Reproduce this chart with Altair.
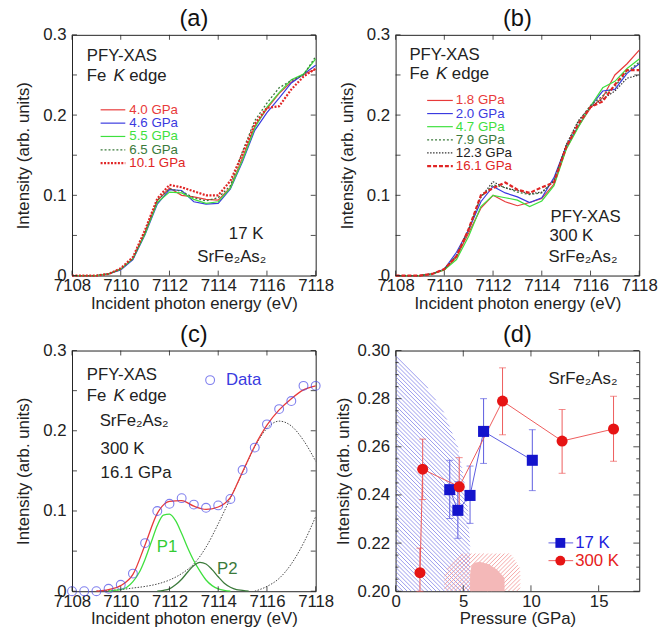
import altair as alt
import numpy as np
import pandas as pd

FONT = "Liberation Sans"
W, H = 247, 244
INK = "#222222"

# ---------------- data ----------------
energy = [7108, 7108.5, 7109, 7109.5, 7110, 7110.5, 7111, 7111.5, 7112, 7112.5,
          7113, 7113.5, 7114, 7114.5, 7115, 7115.5, 7116, 7116.5, 7117, 7117.5, 7118]

# panel (a) 17 K
a_4p0 = [0, 0, 0, 0.002, 0.008, 0.021, 0.054, 0.093, 0.109, 0.100, 0.098, 0.095, 0.094, 0.110, 0.147, 0.186, 0.208, 0.227, 0.241, 0.251, 0.257]
a_4p6 = [0, 0, 0, 0.002, 0.007, 0.020, 0.051, 0.089, 0.107, 0.106, 0.092, 0.089, 0.090, 0.108, 0.142, 0.181, 0.203, 0.221, 0.240, 0.251, 0.262]
a_5p5 = [0, 0, 0, 0.002, 0.008, 0.021, 0.052, 0.091, 0.104, 0.103, 0.095, 0.090, 0.092, 0.109, 0.144, 0.184, 0.210, 0.228, 0.244, 0.251, 0.270]
a_6p5 = [0, 0, 0, 0.002, 0.008, 0.021, 0.054, 0.094, 0.108, 0.105, 0.097, 0.093, 0.097, 0.112, 0.155, 0.193, 0.215, 0.234, 0.243, 0.250, 0.273]
a_10p1 = [0, 0, 0, 0.002, 0.009, 0.023, 0.057, 0.096, 0.113, 0.110, 0.105, 0.100, 0.100, 0.118, 0.152, 0.189, 0.209, 0.211, 0.232, 0.248, 0.258]

# panel (b) 300 K
b_1p8 = [0, 0, 0, 0.002, 0.007, 0.023, 0.053, 0.084, 0.100, 0.092, 0.087, 0.091, 0.096, 0.114, 0.158, 0.186, 0.209, 0.222, 0.250, 0.264, 0.281]
b_2p0 = [0, 0, 0, 0.002, 0.008, 0.029, 0.057, 0.092, 0.111, 0.103, 0.098, 0.091, 0.097, 0.122, 0.161, 0.186, 0.211, 0.230, 0.232, 0.252, 0.264]
b_4p7 = [0, 0, 0, 0.002, 0.007, 0.020, 0.049, 0.086, 0.100, 0.097, 0.094, 0.086, 0.093, 0.112, 0.157, 0.185, 0.211, 0.234, 0.242, 0.258, 0.270]
b_7p9 = [0, 0, 0, 0.002, 0.008, 0.025, 0.057, 0.098, 0.113, 0.110, 0.104, 0.101, 0.103, 0.118, 0.162, 0.192, 0.212, 0.224, 0.236, 0.254, 0.266]
b_12p3 = [0, 0, 0, 0.002, 0.008, 0.025, 0.058, 0.098, 0.117, 0.109, 0.106, 0.102, 0.104, 0.118, 0.163, 0.193, 0.210, 0.220, 0.230, 0.246, 0.250]
b_16p1 = [0, 0, 0, 0.002, 0.008, 0.024, 0.058, 0.100, 0.109, 0.116, 0.107, 0.103, 0.110, 0.116, 0.160, 0.189, 0.210, 0.217, 0.238, 0.256, 0.256]

# panel (c) fit of 300 K, 16.1 GPa
c_data = [0, 0, 0, 0.003, 0.008, 0.022, 0.060, 0.100, 0.109, 0.116, 0.108, 0.104, 0.107, 0.115, 0.151, 0.179, 0.208, 0.227, 0.237, 0.256, 0.256]
fit_e = [7109, 7109.5, 7110, 7110.5, 7111, 7111.5, 7112, 7112.5, 7113, 7113.5, 7114, 7114.5, 7115, 7115.5, 7116, 7116.5, 7117, 7117.5, 7118]
fit_i = [0.0, 0.002, 0.007, 0.021, 0.058, 0.097, 0.112, 0.113, 0.106, 0.102, 0.105, 0.117, 0.149, 0.181, 0.207, 0.226, 0.240, 0.251, 0.256]
p1_e = [7109.5, 7109.75, 7110, 7110.25, 7110.5, 7110.75, 7111, 7111.25, 7111.5, 7111.75, 7112, 7112.25, 7112.5, 7112.75, 7113, 7113.25, 7113.5, 7113.75, 7114, 7114.25, 7114.5]
p1_i = [0.0, 0.001, 0.002, 0.005, 0.012, 0.023, 0.040, 0.061, 0.082, 0.095, 0.096, 0.088, 0.072, 0.054, 0.038, 0.025, 0.014, 0.007, 0.003, 0.001, 0.0]
p2_e = [7111.5, 7111.75, 7112, 7112.25, 7112.5, 7112.75, 7113, 7113.25, 7113.5, 7113.75, 7114, 7114.25, 7114.5, 7114.75, 7115, 7115.25]
p2_i = [0.0, 0.001, 0.003, 0.008, 0.015, 0.024, 0.032, 0.036, 0.034, 0.027, 0.018, 0.010, 0.005, 0.002, 0.001, 0.0]
s1_e = [7109, 7109.5, 7110, 7110.5, 7111, 7111.5, 7112, 7112.5, 7113, 7113.5, 7114, 7114.5, 7115, 7115.5, 7116, 7116.5, 7117, 7117.5, 7118]
s1_i = [0.0, 0.001, 0.002, 0.004, 0.006, 0.009, 0.014, 0.022, 0.034, 0.055, 0.084, 0.116, 0.148, 0.180, 0.203, 0.212, 0.206, 0.188, 0.162]
s2_e = [7115.5, 7116, 7116.5, 7117, 7117.5, 7118]
s2_i = [0.0, 0.006, 0.016, 0.034, 0.060, 0.093]

# panel (d) intensity vs pressure
p17 = [4.0, 4.6, 5.5, 6.5, 10.1]
i17 = [0.2422, 0.2336, 0.2398, 0.2664, 0.2544]
lo17 = [0.2302, 0.2220, 0.2282, 0.2531, 0.2418]
hi17 = [0.2544, 0.2455, 0.2520, 0.2800, 0.2671]
p300 = [1.8, 2.0, 4.7, 7.9, 12.3, 16.1]
i300 = [0.2077, 0.2507, 0.2434, 0.2790, 0.2624, 0.2674]
lo300 = [0.2000, 0.2381, 0.2323, 0.2650, 0.2490, 0.2540]
hi300 = [0.2179, 0.2632, 0.2555, 0.2928, 0.2755, 0.2810]

# shaded phase regions in (d)
blue_p = [0, 1.3, 2.2, 3.6, 4.6, 5.07, 5.37, 5.5]
blue_top = [0.298, 0.291, 0.286, 0.274, 0.260, 0.2466, 0.233, 0.219]
hatch_p = [3.6, 4.7, 8.5, 9.2]
hatch_top = [0.2075, 0.2157, 0.2157, 0.2096]
pink_p = [5.5, 5.6, 5.85, 6.2, 6.9, 7.5, 8.05]
pink_top = [0.2068, 0.2105, 0.2118, 0.2123, 0.2112, 0.2089, 0.2055]

en_ticks = [7108, 7110, 7112, 7114, 7116, 7118]
int_ticks = [0, 0.1, 0.2, 0.3]
int_minor = [0, 0.05, 0.1, 0.15, 0.2, 0.25, 0.3]
p_ticks = [0, 5, 10, 15]
d_ticks = [0.20, 0.22, 0.24, 0.26, 0.28, 0.30]
d_minor = [0.205, 0.21, 0.215, 0.225, 0.23, 0.235, 0.245, 0.25, 0.255,
           0.265, 0.27, 0.275, 0.285, 0.29, 0.295]

RED = "#e83a3a"
BLUE = "#3a3ae0"
GREEN = "#3ee03e"
DGREEN = "#3b7a3b"
RDOT = "#e02525"

one = pd.DataFrame({"k": [0]})


def txt(s, x, y, size=17, color=INK, style="normal", align="left"):
    return alt.Chart(one).mark_text(text=s, fontSize=size, font=FONT, color=color,
                                    fontStyle=style, align=align, baseline="middle").encode(
        x=alt.value(x), y=alt.value(y))


def seg(x1, x2, y, color, dash=None, width=1.2):
    kw = dict(color=color, strokeWidth=width)
    if dash:
        kw["strokeDash"] = dash
    return alt.Chart(one).mark_rule(**kw).encode(x=alt.value(x1), x2=alt.value(x2), y=alt.value(y))


class Frame:
    """Shared scales and axes for every layer of one panel."""
    def __init__(self, xdom, ydom, xax, yax):
        self.xdom, self.ydom = xdom, ydom
        self.xs = alt.Scale(domain=xdom, nice=False, zero=False)
        self.ys = alt.Scale(domain=ydom, nice=False, zero=False)
        self.xax = xax
        self.yax = yax

    def X(self, f):
        return alt.X(f, type="quantitative", scale=self.xs, axis=self.xax)

    def Y(self, f):
        return alt.Y(f, type="quantitative", scale=self.ys, axis=self.yax)


def curve(fr, xv, yv, color, dash=None, width=1.2, interp="linear"):
    df = pd.DataFrame({"x": xv, "y": yv})
    kw = dict(color=color, strokeWidth=width, interpolate=interp)
    if dash:
        kw["strokeDash"] = dash
    return alt.Chart(df).mark_line(**kw).encode(x=fr.X("x"), y=fr.Y("y"))


def inner_ticks(fr, xvals, yvals, L=5, yminor=None, Lm=3):
    tk = dict(color=INK, strokeWidth=0.8)
    dfx = pd.DataFrame({"x": xvals})
    dfy = pd.DataFrame({"y": yvals})
    out = [
        alt.Chart(dfx).mark_rule(**tk).encode(x=fr.X("x"), y=alt.value(H), y2=alt.value(H - L)),
        alt.Chart(dfx).mark_rule(**tk).encode(x=fr.X("x"), y=alt.value(0), y2=alt.value(L)),
        alt.Chart(dfy).mark_rule(**tk).encode(y=fr.Y("y"), x=alt.value(0), x2=alt.value(L)),
        alt.Chart(dfy).mark_rule(**tk).encode(y=fr.Y("y"), x=alt.value(W), x2=alt.value(W - L)),
    ]
    if yminor:
        dfm = pd.DataFrame({"y": yminor})
        out += [
            alt.Chart(dfm).mark_rule(**tk).encode(y=fr.Y("y"), x=alt.value(0), x2=alt.value(Lm)),
            alt.Chart(dfm).mark_rule(**tk).encode(y=fr.Y("y"), x=alt.value(W), x2=alt.value(W - Lm)),
        ]
    return out


def fe_k_edge(x0, y):
    return [txt("Fe", x0, y), txt("K", x0 + 27, y, style="italic"), txt("edge", x0 + 43, y)]


def title(s):
    return alt.TitleParams(s, fontSize=24, font=FONT, fontWeight="normal", color="#111",
                           offset=-5, frame="group")


def ax_en():
    return alt.Axis(values=en_ticks, format="d", title="Incident photon energy (eV)",
                    labelFlush=False, labelOverlap=False, labelPadding=2, titlePadding=2)


def ax_int():
    return alt.Axis(values=int_ticks, format=".1~f", title="Intensity (arb. units)",
                    labelFlush=False, labelOverlap=False, labelPadding=6, titlePadding=10)


# ---------------- panel (a) ----------------
fa = Frame([7108, 7118], [0, 0.3], ax_en(), ax_int())
ser_a = [("4.0 GPa", a_4p0, RED, None, 1.2, RED),
         ("4.6 GPa", a_4p6, BLUE, None, 1.2, BLUE),
         ("5.5 GPa", a_5p5, GREEN, None, 1.2, GREEN),
         ("6.5 GPa", a_6p5, DGREEN, [2, 2], 1.3, DGREEN),
         ("10.1 GPa", a_10p1, RDOT, [2, 1.5], 2.2, RDOT)]
la = []
for lab, vals, col, dash, wd, tcol in ser_a:
    la.append(curve(fa, energy, vals, col, dash, wd))
la += inner_ticks(fa, en_ticks, int_minor)
la += [txt("PFY-XAS", 15, 22)] + fe_k_edge(15, 42)
rows_a = [76, 89.5, 103, 116.5, 130]
for (lab, vals, col, dash, wd, tcol), yy in zip(ser_a, rows_a):
    la += [seg(29, 54, yy, col, dash, wd), txt(lab, 58, yy, size=13.5, color=tcol)]
la += [txt("17 K", 159, 202), txt("SrFe₂As₂", 127, 225)]
pa = alt.layer(*la).properties(width=W, height=H, title=title("(a)"))

# ---------------- panel (b) ----------------
fb = Frame([7108, 7118], [0, 0.3], ax_en(), ax_int())
ser_b = [("1.8 GPa", b_1p8, RED, None, 1.2, RED),
         ("2.0 GPa", b_2p0, BLUE, None, 1.2, BLUE),
         ("4.7 GPa", b_4p7, GREEN, None, 1.2, GREEN),
         ("7.9 GPa", b_7p9, DGREEN, [2, 2], 1.3, DGREEN),
         ("12.3 GPa", b_12p3, "#333333", [1.5, 1.5], 1.2, INK),
         ("16.1 GPa", b_16p1, RDOT, [4, 2], 2.2, RDOT)]
lb = []
for lab, vals, col, dash, wd, tcol in ser_b:
    lb.append(curve(fb, energy, vals, col, dash, wd))
lb += inner_ticks(fb, en_ticks, int_minor)
lb += [txt("PFY-XAS", 14, 20)] + fe_k_edge(14, 40)
rows_b = [66.5, 79.8, 93.1, 106.4, 119.7, 133]
for (lab, vals, col, dash, wd, tcol), yy in zip(ser_b, rows_b):
    lb += [seg(32, 58, yy, col, dash, wd), txt(lab, 61, yy, size=13.5, color=tcol)]
lb += [txt("PFY-XAS", 157, 185), txt("300 K", 156, 204), txt("SrFe₂As₂", 155, 225)]
pb = alt.layer(*lb).properties(width=W, height=H, title=title("(b)"))

# ---------------- panel (c) ----------------
fc = Frame([7108, 7118], [0, 0.3], ax_en(), ax_int())
lc = [
    curve(fc, s1_e, s1_i, "#444444", [1.5, 1.5], 1.0, "monotone"),
    curve(fc, s2_e, s2_i, "#444444", [1.5, 1.5], 1.0, "monotone"),
    curve(fc, p1_e, p1_i, GREEN, None, 1.3, "monotone"),
    curve(fc, p2_e, p2_i, DGREEN, None, 1.3, "monotone"),
    curve(fc, fit_e, fit_i, RED, None, 1.3, "monotone"),
    alt.Chart(pd.DataFrame({"x": energy, "y": c_data})).mark_point(
        shape="circle", filled=False, color="#4b4be8", size=80, strokeWidth=1.1).encode(
        x=fc.X("x"), y=fc.Y("y")),
]
lc += inner_ticks(fc, en_ticks, int_minor)
lc += [txt("PFY-XAS", 15, 25)] + fe_k_edge(15, 46)
lc += [txt("SrFe₂As₂", 28, 72), txt("300 K", 29, 100), txt("16.1 GPa", 29, 124)]
lc += [alt.Chart(one).mark_point(shape="circle", filled=False, color="#4b4be8", size=80, strokeWidth=1.1).encode(
           x=alt.value(140), y=alt.value(30)),
       txt("Data", 156, 30, color="#3a3ae0"),
       txt("P1", 86, 199, color="#33cc33"),
       txt("P2", 147, 222, color=DGREEN)]
pc = alt.layer(*lc).properties(width=W, height=H, title=title("(c)"))

# ---------------- panel (d) ----------------
fd = Frame([0, 18], [0.2, 0.3],
           alt.Axis(values=p_ticks, format="d", title="Pressure (GPa)", labelFlush=False,
                    labelOverlap=False, labelPadding=2, titlePadding=2),
           alt.Axis(values=d_ticks, format=".2f", title="Intensity (arb. units)", labelFlush=False,
                    labelOverlap=False, labelPadding=6, titlePadding=5))


def hatch_lines(fr, xv, top, direction, spacing=4.2):
    """Hatching texture for a region bounded by the 'top' outline and the bottom of the plot.
    direction=+1 draws '\\' strokes, -1 draws '/' strokes (in screen space)."""
    x0d, x1d = fr.xdom
    y0d, y1d = fr.ydom
    sx = W / (x1d - x0d)
    sy = H / (y1d - y0d)
    X = (np.asarray(xv, float) - x0d) * sx
    Yt = (y1d - np.asarray(top, float)) * sy
    xs = np.arange(X[0], X[-1] + 1e-9, 0.2)
    yt = np.interp(xs, X, Yt)
    rows = []
    cs = np.arange(-2 * W - H, 2 * W + H, spacing)
    for c in cs:
        yl = direction * xs + c
        inside = (yl >= yt) & (yl <= H)
        if not inside.any():
            continue
        edges = np.flatnonzero(np.diff(np.concatenate([[0], inside.astype(int), [0]])))
        for a, b in zip(edges[::2], edges[1::2]):
            if b - 1 <= a:
                continue
            xa, xb = xs[a], xs[b - 1]
            rows.append((xa / sx + x0d, y1d - (direction * xa + c) / sy,
                         xb / sx + x0d, y1d - (direction * xb + c) / sy))
    return pd.DataFrame(rows, columns=["x", "y", "xe", "ye"])


def hatch_layer(df, color):
    return alt.Chart(df).mark_rule(color=color, strokeWidth=0.8).encode(
        x=fd.X("x"), y=fd.Y("y"), x2="xe:Q", y2="ye:Q")


def area(xv, top, color, opacity):
    df = pd.DataFrame({"x": xv, "y": top})
    return alt.Chart(df).mark_area(color=color, opacity=opacity, interpolate="linear").encode(
        x=fd.X("x"), y=fd.Y("y"), y2=alt.datum(0.2))


d17 = pd.DataFrame({"p": p17, "i": i17, "lo": lo17, "hi": hi17})
d300 = pd.DataFrame({"p": p300, "i": i300, "lo": lo300, "hi": hi300})


def series_d(df, col, shape, lcol):
    base = alt.Chart(df)
    return [
        base.mark_line(color=lcol, strokeWidth=1).encode(x=fd.X("p"), y=fd.Y("i")),
        base.mark_rule(color=lcol, strokeWidth=1).encode(x=fd.X("p"), y=fd.Y("lo"), y2="hi:Q"),
        base.mark_tick(color=lcol, orient="horizontal", size=7, thickness=1).encode(x=fd.X("p"), y=fd.Y("hi")),
        base.mark_tick(color=lcol, orient="horizontal", size=7, thickness=1).encode(x=fd.X("p"), y=fd.Y("lo")),
    ], base.mark_point(shape=shape, filled=True, color=col, size=125, opacity=1).encode(
        x=fd.X("p"), y=fd.Y("i"))


ld = [hatch_layer(hatch_lines(fd, blue_p, blue_top, +1), "#8282e8"),
      hatch_layer(hatch_lines(fd, hatch_p, hatch_top, -1), "#f29292"),
      area(pink_p, pink_top, "#f4b8b8", 1.0)]
r17, m17 = series_d(d17, "#1414cc", "square", "#5a5ae0")
r300, m300 = series_d(d300, "#e61414", "circle", "#ee5a5a")
ld += r17 + r300 + [m17, m300]
ld += inner_ticks(fd, p_ticks, d_ticks, L=6, yminor=d_minor, Lm=3)
ld += [txt("SrFe₂As₂", 155, 29)]
ld += [seg(155, 180, 195, "#5a5ae0", None, 1),
       alt.Chart(one).mark_point(shape="square", filled=True, color="#1414cc", size=100, opacity=1).encode(
           x=alt.value(167), y=alt.value(195)),
       txt("17 K", 182, 195, color="#2020dd"),
       seg(155, 180, 213, "#ee5a5a", None, 1),
       alt.Chart(one).mark_point(shape="circle", filled=True, color="#e61414", size=100, opacity=1).encode(
           x=alt.value(167), y=alt.value(213)),
       txt("300 K", 182, 213, color="#e62020")]
pd_ = alt.layer(*ld).properties(width=W, height=H, title=title("(d)"))

chart = alt.concat(pa, pb, pc, pd_, columns=2, spacing={"row": 76, "column": 81}, bounds="flush").properties(
    padding={"left": 14, "top": 2, "right": 0, "bottom": 0}
).configure(font=FONT).configure_view(stroke=INK, strokeWidth=1).configure_axis(
    labelFont=FONT, titleFont=FONT, labelFontSize=17, titleFontSize=17, titleFontWeight="normal",
    labelColor=INK, titleColor=INK, domain=False, ticks=False, grid=False
)

chart.save("out.html", embed_options={"renderer": "svg", "actions": False})
